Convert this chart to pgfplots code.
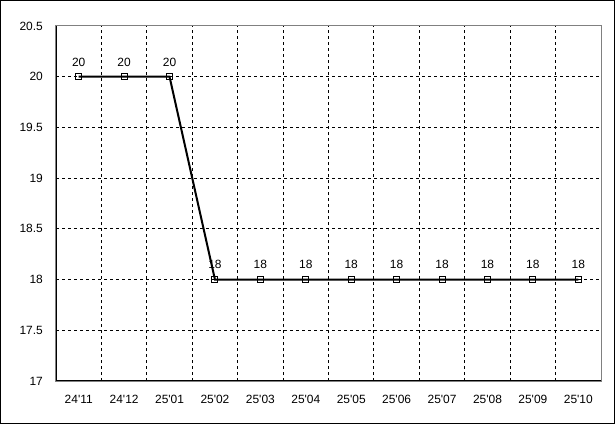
\documentclass[border=0pt]{standalone}
\usepackage{pgfplots}
\pgfplotsset{compat=1.18}
\usepackage{fontspec}
\setmainfont{Liberation Sans}
\begin{document}
\begin{tikzpicture}[x=1bp,y=1bp]
% outer frame of the chart
\draw[black,line width=1bp] (-55.5,-42.5) rectangle (558.5,380.5);
\begin{axis}[
  scale only axis,width=545bp,height=355bp,
  xmin=-0.5,xmax=11.5,ymin=17,ymax=20.5,
  xtick={0,...,11},
  xticklabels={24\textquotesingle 11,24\textquotesingle 12,25\textquotesingle 01,25\textquotesingle 02,25\textquotesingle 03,25\textquotesingle 04,25\textquotesingle 05,25\textquotesingle 06,25\textquotesingle 07,25\textquotesingle 08,25\textquotesingle 09,25\textquotesingle 10},
  minor xtick={0.5,1.5,...,10.5},
  ytick={17,17.5,...,20.5},
  yticklabel style={/pgf/number format/fixed,/pgf/number format/assume math mode=true,inner sep=0pt,xshift=-13bp},
  xticklabel style={inner sep=0pt,yshift=-14bp},
  tick label style={font=\fontsize{12}{14}\selectfont},
  major tick length=0pt,minor tick length=0pt,
  xmajorgrids=false,xminorgrids=true,ymajorgrids=true,
  grid style={black,line width=1bp,dash pattern=on 3bp off 3bp},
  minor grid style={black,line width=1bp,dash pattern=on 3bp off 3bp},
  axis line style={gray,line width=1bp},
  axis on top,
  clip=false,
  nodes near coords,
  every node near coord/.append style={font=\fontsize{12}{14}\selectfont,anchor=south,inner sep=0pt,yshift=10bp,black},
  point meta=explicit symbolic,
]
\addplot[black,line width=2bp,mark=square,mark size=3bp,mark options={fill=white,line width=1bp,solid}]
  coordinates {(0,20)[20] (1,20)[20] (2,20)[20] (3,18)[18] (4,18)[18] (5,18)[18] (6,18)[18] (7,18)[18] (8,18)[18] (9,18)[18] (10,18)[18] (11,18)[18]};
\draw[black,line width=1.5bp] (rel axis cs:0,1) -- (rel axis cs:0,0) -- (rel axis cs:1,0);
\end{axis}
\end{tikzpicture}
\end{document}
